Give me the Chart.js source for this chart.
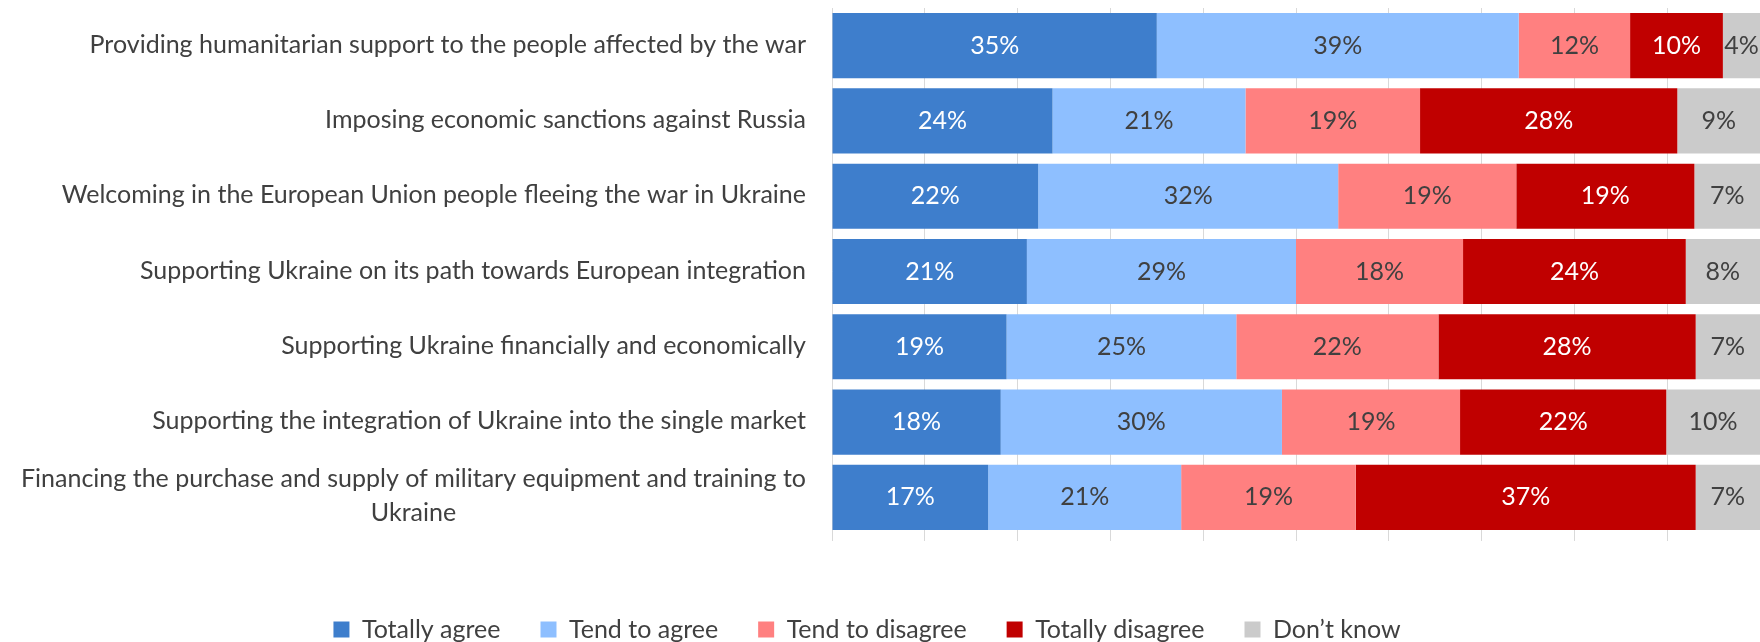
<!DOCTYPE html>
<html>
<head>
<meta charset="utf-8">
<script src="https://cdn.jsdelivr.net/npm/chart.js@4"></script>
<style>
  html, body { margin: 0; padding: 0; background: #fff; }
  #wrap { width: 1760px; height: 642px; position: relative; }
</style>
</head>
<body>
<div id="wrap"><canvas id="js--chart"></canvas></div>
<script>
const categories = [
    "Providing humanitarian support to the people affected by the war",
    "Imposing economic sanctions against Russia",
    "Welcoming in the European Union people fleeing the war in Ukraine",
    "Supporting Ukraine on its path towards European integration",
    "Supporting Ukraine financially and economically",
    "Supporting the integration of Ukraine into the single market",
    ["Financing the purchase and supply of military equipment and training to", "Ukraine"]
];
const seriesNames = ["Totally agree", "Tend to agree", "Tend to disagree", "Totally disagree", "Don\u2019t know"];
const totallyAgree    = [35, 24, 22, 21, 19, 18, 17];
const tendToAgree     = [39, 21, 32, 29, 25, 30, 21];
const tendToDisagree  = [12, 19, 19, 18, 22, 19, 19];
const totallyDisagree = [10, 28, 19, 24, 28, 22, 37];
const dontKnow        = [4, 9, 7, 8, 7, 10, 7];

const seriesValues = [totallyAgree, tendToAgree, tendToDisagree, totallyDisagree, dontKnow];
const seriesColors = ['#3E7ECC', '#8EBFFF', '#FF8080', '#C00000', '#CBCBCB'];
const labelColors = ['#ffffff', '#404040', '#404040', '#ffffff', '#404040'];
const FONT = 'Lato';
const FONT_SIZE = 25;
const textColor = '#404040';

// 100% stacked: every row is scaled to its own total
const rowTotals = categories.map((c, i) => seriesValues.reduce((s, arr) => s + arr[i], 0));

const datasets = seriesValues.map(function(values, k) {
    return {
        label: seriesNames[k],
        data: values.map((v, i) => v / rowTotals[i] * 100),
        raw: values,
        backgroundColor: seriesColors[k],
        borderWidth: 0,
        barPercentage: 0.865,
        categoryPercentage: 1
    };
});

// percent labels in the middle of every segment
const barLabels = {
    id: 'barLabels',
    afterDatasetsDraw(chart) {
        const ctx = chart.ctx;
        ctx.save();
        ctx.font = FONT_SIZE + 'px ' + FONT;
        ctx.textAlign = 'center';
        ctx.textBaseline = 'middle';
        chart.data.datasets.forEach(function(ds, k) {
            chart.getDatasetMeta(k).data.forEach(function(bar, i) {
                const p = bar.getCenterPoint();
                ctx.fillStyle = labelColors[k];
                ctx.fillText(ds.raw[i] + '%', p.x, p.y);
            });
        });
        ctx.restore();
    }
};

// category labels: right aligned, wrapped lines centred on each other
const rowLabels = {
    id: 'rowLabels',
    afterDraw(chart) {
        const ctx = chart.ctx;
        const yScale = chart.scales.y;
        const right = chart.chartArea.left - 26;
        const lineHeight = 34;
        ctx.save();
        ctx.font = FONT_SIZE + 'px ' + FONT;
        ctx.fillStyle = textColor;
        ctx.textBaseline = 'middle';
        ctx.textAlign = 'center';
        categories.forEach(function(cat, i) {
            const y = yScale.getPixelForValue(i) - 1;
            const lines = Array.isArray(cat) ? cat : [cat];
            const maxW = Math.max(...lines.map(l => ctx.measureText(l).width));
            const cx = right - maxW / 2;
            lines.forEach(function(line, n) {
                const ly = y + (n - (lines.length - 1) / 2) * lineHeight;
                ctx.fillText(line, cx, ly);
            });
        });
        ctx.restore();
    }
};

// pull the legend a little lower and a bit to the left
const legendShift = {
    id: 'legendShift',
    beforeInit(chart) {
        const fit = chart.legend.fit;
        chart.legend.fit = function() {
            fit.bind(chart.legend)();
            this.height -= 10;
        };
    },
    afterLayout(chart) {
        chart.legend.left -= 13;
        chart.legend.right -= 13;
    }
};

const config = {
    type: 'bar',
    data: { labels: categories, datasets: datasets },
    options: {
        indexAxis: 'y',
        responsive: true,
        maintainAspectRatio: false,
        animation: false,
        layout: { padding: { top: 8, right: 0, bottom: 0, left: 0 } },
        scales: {
            x: {
                stacked: true,
                min: 0,
                max: 100,
                ticks: { display: false, stepSize: 10 },
                grid: { color: '#D9D9D9', lineWidth: 1, drawTicks: true, tickLength: 6 },
                border: { display: false },
                afterFit: function(scale) { scale.height = 42; }
            },
            y: {
                stacked: true,
                ticks: { display: false },
                grid: { display: false },
                border: { display: false },
                afterFit: function(scale) { scale.width = 832; }
            }
        },
        plugins: {
            legend: {
                position: 'bottom',
                labels: {
                    boxWidth: 16,
                    boxHeight: 16,
                    padding: 40,
                    color: textColor,
                    font: { family: FONT, size: FONT_SIZE }
                }
            },
            tooltip: { enabled: false }
        }
    },
    plugins: [barLabels, rowLabels, legendShift]
};

const myChart = new Chart(document.getElementById('js--chart'), config);
</script>
</body>
</html>
